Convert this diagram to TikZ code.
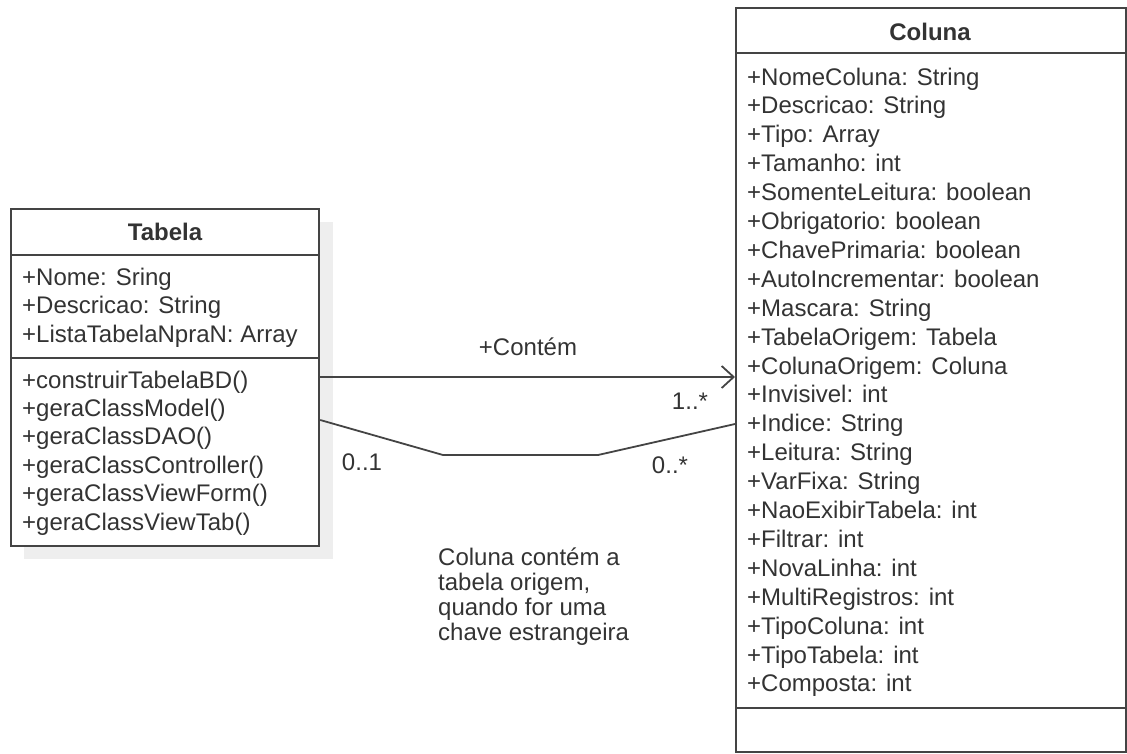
\documentclass[tikz,border=0pt]{standalone}
\usepackage{fontspec}
\setmainfont{Liberation Sans}
\usetikzlibrary{arrows.meta}
\definecolor{ink}{HTML}{333333}
\definecolor{edge}{HTML}{444444}
\definecolor{shadowgray}{HTML}{EEEEEE}
\begin{document}
\begin{tikzpicture}[x=1pt,y=-1pt,
  classbox/.style={draw=edge, line width=2.2pt, fill=white, inner sep=0pt, anchor=north west},
  sepline/.style={draw=edge, line width=2.2pt},
  member/.style={text=ink, inner sep=0pt, anchor=base west, font=\fontsize{24}{29}\selectfont},
  title/.style={text=ink, inner sep=0pt, anchor=base, font=\fontsize{24}{29}\selectfont\bfseries},
  label/.style={text=ink, inner sep=0pt, anchor=base, font=\fontsize{24}{29}\selectfont},
  assoc/.style={draw=edge, line width=1.8pt},
  navarrow/.style={assoc, -{Straight Barb[length=12pt, width=22pt, line width=1.8pt]}}
]
\useasboundingbox (0,0) rectangle (1127,753);

% Tabela class with its drop shadow
\fill[shadowgray] (24,222) rectangle (333,559);
\node[classbox, minimum width=308pt, minimum height=337pt] (tabela) at (10,208) {};
\draw[sepline] (tabela.west |- 0,255) -- (tabela.east |- 0,255);
\draw[sepline] (tabela.west |- 0,358) -- (tabela.east |- 0,358);
\node[title] (tabelaname) at (165,240) {Tabela};
\foreach \t [count=\i from 0] in {+Nome: Sring, +Descricao: String, +ListaTabelaNpraN: Array}
  \node[member] (ta\i) at (22,{285+28.7*\i}) {\t};
\foreach \t [count=\i from 0] in {+construirTabelaBD(), +geraClassModel(), +geraClassDAO(),
    +geraClassController(), +geraClassViewForm(), +geraClassViewTab()}
  \node[member] (tm\i) at (22,{388+28.4*\i}) {\t};

% Coluna class
\node[classbox, minimum width=390pt, minimum height=744pt] (coluna) at (735,7) {};
\draw[sepline] (coluna.west |- 0,53) -- (coluna.east |- 0,53);
\draw[sepline] (coluna.west |- 0,708) -- (coluna.east |- 0,708);
\node[title] (colunaname) at (930,40) {Coluna};
\foreach \t [count=\i from 0] in {+NomeColuna: String, +Descricao: String, +Tipo: Array,
    +Tamanho: int, +SomenteLeitura: boolean, +Obrigatorio: boolean, +ChavePrimaria: boolean,
    +AutoIncrementar: boolean, +Mascara: String, +TabelaOrigem: Tabela, +ColunaOrigem: Coluna,
    +Invisivel: int, +Indice: String, +Leitura: String, +VarFixa: String,
    +NaoExibirTabela: int, +Filtrar: int, +NovaLinha: int, +MultiRegistros: int,
    +TipoColuna: int, +TipoTabela: int, +Composta: int}
  \node[member] (ca\i) at (747,{85+28.9*\i}) {\t};

% Navigable association Tabela -> Coluna
\draw[navarrow] (tabela.east |- 0,377) -- (coluna.west |- 0,377);
\node[label] (contem) at (528,355) {+Contém};
\node[label] (mult1) at (690,409) {1..*};

% Foreign-key association Coluna -> Tabela
\coordinate (bendA) at (443,455);
\coordinate (bendB) at (598,455);
\draw[assoc] (tabela.east |- 0,420) -- (bendA) -- (bendB) -- (coluna.west |- 0,424);
\node[label] (mult2) at (362,470) {0..1};
\node[label] (mult3) at (670,473) {0..*};

% Note text
\foreach \t [count=\i from 0] in {Coluna contém a, {tabela origem,}, quando for uma, chave estrangeira}
  \node[member] (note\i) at (438,{565+25*\i}) {\t};
\end{tikzpicture}
\end{document}
